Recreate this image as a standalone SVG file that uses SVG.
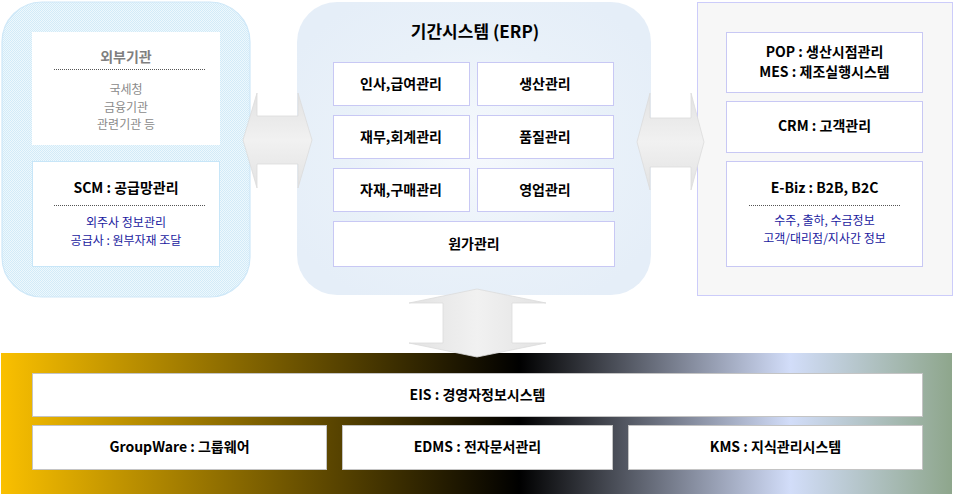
<svg xmlns="http://www.w3.org/2000/svg" width="955" height="494" viewBox="0 0 955 494">
<defs>
<style>
text{font-family:"Malgun Gothic","Noto Sans CJK KR","Noto Sans",sans-serif;text-anchor:middle}
.t{font-size:14px;font-weight:bold;fill:#000}
.tg{font-size:14px;font-weight:bold;fill:#7f7f7f}
.g{font-size:12px;fill:#8a8a8a}
.b{font-size:12px;fill:#1a1aa0}
.box{fill:#fff;stroke:#c8c8f4;stroke-width:1}
.bbox{fill:#fff;stroke:#c4c4c4;stroke-width:1}
.dot{stroke:#555;stroke-width:1;stroke-dasharray:1 1}
.arr{stroke:#dcdcdc;stroke-width:0.8}
</style>
<pattern id="dots" width="2" height="2" patternUnits="userSpaceOnUse">
<rect width="2" height="2" fill="#eef8fd"/>
<rect width="1" height="1" fill="#d2ebf8"/>
<rect x="1" y="1" width="1" height="1" fill="#d2ebf8"/>
</pattern>
<radialGradient id="erp" cx="0.5" cy="0.5" r="0.6">
<stop offset="0" stop-color="#f6f9fd"/>
<stop offset="0.6" stop-color="#e9f1f9"/>
<stop offset="1" stop-color="#e5eef8"/>
</radialGradient>
<linearGradient id="bar" x1="0" y1="0" x2="1" y2="0">
<stop offset="0" stop-color="#fac000"/>
<stop offset="0.545" stop-color="#000"/>
<stop offset="0.83" stop-color="#d2ddf9"/>
<stop offset="1" stop-color="#8ea68c"/>
</linearGradient>
<linearGradient id="ah" x1="0" y1="0" x2="0" y2="1">
<stop offset="0" stop-color="#e2e2e2"/>
<stop offset="0.5" stop-color="#f1f1f1"/>
<stop offset="1" stop-color="#e2e2e2"/>
</linearGradient>
<linearGradient id="av" x1="0" y1="0" x2="1" y2="0">
<stop offset="0" stop-color="#e2e2e2"/>
<stop offset="0.5" stop-color="#f1f1f1"/>
<stop offset="1" stop-color="#e2e2e2"/>
</linearGradient>
</defs>
<rect width="955" height="494" fill="#fff"/>

<g id="panel-left">
<rect x="2" y="2" width="248" height="295" rx="40" fill="url(#dots)" stroke="#cfe8f8" stroke-width="1.2"/>
</g>
<g id="panel-erp">
<rect x="297" y="2" width="354" height="293" rx="40" fill="url(#erp)"/>
<text class="t" x="475" y="38" style="font-size:17px">기간시스템 (ERP)</text>
</g>
<g id="panel-right">
<rect x="697.5" y="2.5" width="255" height="293" fill="#f7f7f7" stroke="#ccccfa"/>
</g>
<g id="bar-bottom">
<rect x="1" y="353" width="951" height="141" fill="url(#bar)"/>
</g>

<g id="connectors">
<path class="arr" fill="url(#ah)" d="M243,140 L257,93 L257,116 L298,116 L298,93 L312,140 L298,188 L298,164 L257,164 L257,188 Z"/>
<path class="arr" fill="url(#ah)" d="M637,142 L650,93 L650,118 L691,118 L691,93 L704,142 L691,190 L691,167 L650,167 L650,190 Z"/>
<path class="arr" fill="url(#av)" d="M477,289 L546,303 L512,303 L512,343 L546,343 L477,357 L409,343 L443,343 L443,303 L409,303 Z"/>
</g>

<g id="node-external">
<rect x="32" y="32" width="188" height="113" fill="#fff"/>
<text class="tg" x="126" y="62">외부기관</text>
<line class="dot" x1="54" y1="69.5" x2="206" y2="69.5"/>
<text class="g" x="126" y="94">국세청</text>
<text class="g" x="126" y="111.5">금융기관</text>
<text class="g" x="126" y="129">관련기관 등</text>
</g>
<g id="node-scm">
<rect x="32.5" y="161.5" width="187" height="105" fill="#fff" stroke="#c8e6f8"/>
<text class="t" x="126" y="193">SCM : 공급망관리</text>
<line class="dot" x1="54" y1="205.5" x2="206" y2="205.5"/>
<text class="b" x="126" y="227">외주사 정보관리</text>
<text class="b" x="126" y="244.5">공급사 : 원부자재 조달</text>
</g>

<g id="node-hr"><rect class="box" x="333.5" y="62.5" width="136" height="43"/><text class="t" x="401" y="89">인사,급여관리</text></g>
<g id="node-prod"><rect class="box" x="477.5" y="62.5" width="136" height="43"/><text class="t" x="545" y="89">생산관리</text></g>
<g id="node-fin"><rect class="box" x="333.5" y="115.5" width="136" height="43"/><text class="t" x="401" y="142">재무,회계관리</text></g>
<g id="node-qual"><rect class="box" x="477.5" y="115.5" width="136" height="43"/><text class="t" x="545" y="142">품질관리</text></g>
<g id="node-mat"><rect class="box" x="333.5" y="168.5" width="136" height="43"/><text class="t" x="401" y="195">자재,구매관리</text></g>
<g id="node-sales"><rect class="box" x="477.5" y="168.5" width="136" height="43"/><text class="t" x="545" y="195">영업관리</text></g>
<g id="node-cost"><rect class="box" x="333.5" y="221.5" width="281" height="45"/><text class="t" x="474" y="249">원가관리</text></g>

<g id="node-pop">
<rect class="box" x="726.5" y="32.5" width="196" height="60"/>
<text class="t" x="824.5" y="57">POP : 생산시점관리</text>
<text class="t" x="824.5" y="77">MES : 제조실행시스템</text>
</g>
<g id="node-crm">
<rect class="box" x="726.5" y="101.5" width="196" height="51"/>
<text class="t" x="824.5" y="131">CRM : 고객관리</text>
</g>
<g id="node-ebiz">
<rect class="box" x="726.5" y="161.5" width="196" height="105"/>
<text class="t" x="824.5" y="193">E-Biz : B2B, B2C</text>
<line class="dot" x1="749" y1="205.5" x2="901" y2="205.5"/>
<text class="b" x="824.5" y="225">수주, 출하, 수금정보</text>
<text class="b" x="824.5" y="242.5">고객/대리점/지사간 정보</text>
</g>

<g id="node-eis"><rect class="bbox" x="32.5" y="373.5" width="890" height="43"/><text class="t" x="477.5" y="400">EIS : 경영자정보시스템</text></g>
<g id="node-groupware"><rect class="bbox" x="32.5" y="425.5" width="294" height="44"/><text class="t" x="179.5" y="452">GroupWare : 그룹웨어</text></g>
<g id="node-edms"><rect class="bbox" x="342.5" y="425.5" width="270" height="44"/><text class="t" x="477.5" y="452">EDMS : 전자문서관리</text></g>
<g id="node-kms"><rect class="bbox" x="628.5" y="425.5" width="294" height="44"/><text class="t" x="775.5" y="452">KMS : 지식관리시스템</text></g>
</svg>
